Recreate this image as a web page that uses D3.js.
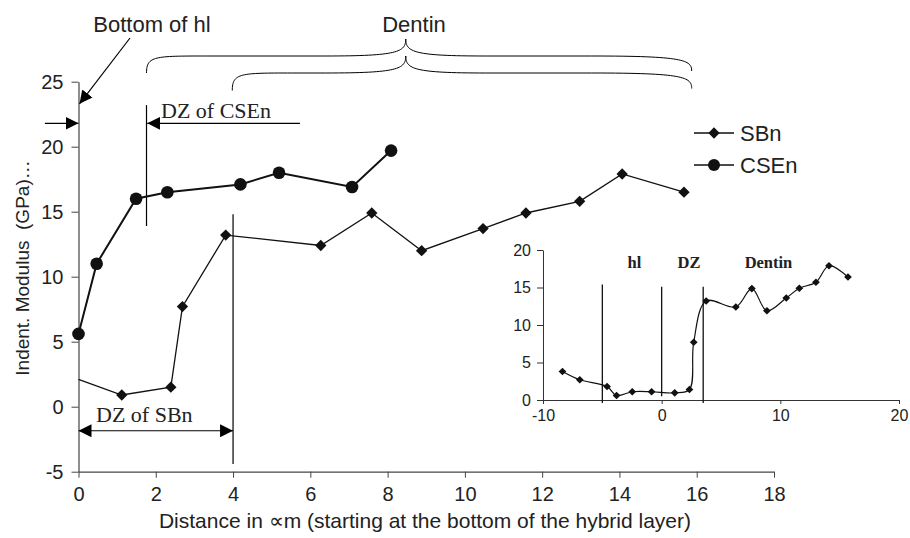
<!DOCTYPE html>
<html>
<head>
<meta charset="utf-8">
<script src="https://cdn.jsdelivr.net/npm/d3@7"></script>
<style>
  body { margin: 0; background: #fff; }
  svg { display: block; }
</style>
</head>
<body>
<div id="chart"></div>
<script>
// main chart series (distance from bottom of hybrid layer, um / modulus, GPa)
const sbnX = [0, 1.12, 2.39, 2.69, 3.81, 6.27, 7.59, 8.88, 10.47, 11.58, 12.97, 14.07, 15.67];
const sbnY = [2.1, 0.9, 1.5, 7.7, 13.2, 12.4, 14.9, 12.0, 13.7, 14.9, 15.8, 17.9, 16.5];
const csenX = [0, 0.47, 1.49, 2.3, 4.19, 5.19, 7.08, 8.09];
const csenY = [5.6, 11.0, 16.0, 16.5, 17.1, 18.0, 16.9, 19.7];

// inset: full SBn profile
const insetX = [-8.36, -6.9, -4.6, -3.8, -2.48, -0.85, 1.1, 2.34, 2.7, 3.75, 6.25, 7.6, 8.87, 10.5, 11.6, 13.0, 14.1, 15.7];
const insetY = [3.8, 2.7, 1.8, 0.6, 1.1, 1.1, 0.95, 1.4, 7.7, 13.2, 12.4, 14.85, 11.9, 13.6, 14.9, 15.7, 17.9, 16.4];

const xTicks = [0, 2, 4, 6, 8, 10, 12, 14, 16, 18];
const yTicks = [-5, 0, 5, 10, 15, 20, 25];
const insetXTicks = [-10, 0, 10, 20];
const insetYTicks = [0, 5, 10, 15, 20];

const width = 910, height = 538;
const svg = d3.select("#chart").append("svg")
  .attr("width", width).attr("height", height);

const x = d3.scaleLinear().domain([0, 18]).range([78.5, 774]);
const y = d3.scaleLinear().domain([-5, 25]).range([471.7, 81.7]);

const arial = "Arial, 'Liberation Sans', sans-serif";
const times = "'Times New Roman', 'Liberation Serif', serif";
const fmt = d => String(d);

// arrowhead
svg.append("defs").append("marker")
  .attr("id", "arr")
  .attr("viewBox", "0 0 10 10")
  .attr("refX", 10).attr("refY", 5)
  .attr("markerWidth", 13).attr("markerHeight", 13)
  .attr("markerUnits", "userSpaceOnUse")
  .attr("orient", "auto-start-reverse")
  .append("path").attr("d", "M0,0L10,5L0,10Z").attr("fill", "#000");

// axes
const xAxis = svg.append("g")
  .attr("transform", `translate(0,${y(-5)})`)
  .call(d3.axisBottom(x).tickValues(xTicks).tickFormat(fmt).tickSize(6).tickPadding(9).tickSizeOuter(0));
const yAxis = svg.append("g")
  .attr("transform", `translate(${x(0)},0)`)
  .call(d3.axisLeft(y).tickValues(yTicks).tickFormat(fmt).tickSize(7).tickPadding(8).tickSizeOuter(0));
[xAxis, yAxis].forEach(g => {
  g.select(".domain").attr("stroke", "#444").attr("stroke-width", 1.2);
  g.selectAll(".tick line").attr("stroke", "#444");
  g.selectAll("text").attr("font-family", arial).attr("font-size", 20).attr("fill", "#222");
});

svg.append("text")
  .attr("x", 425).attr("y", 528)
  .attr("text-anchor", "middle")
  .attr("font-family", arial).attr("font-size", 21).attr("fill", "#222")
  .text("Distance in \u221Dm (starting at the bottom of the hybrid layer)");

svg.append("text")
  .attr("transform", "translate(29,268) rotate(-90)")
  .attr("text-anchor", "middle")
  .attr("font-family", arial).attr("font-size", 19).attr("fill", "#222")
  .text("Indent. Modulus \u00A0(GPa)\u2026");

// annotation lines
const ann = svg.append("g").attr("stroke", "#000").attr("stroke-width", 1.2).attr("fill", "none");

// DZ of CSEn
ann.append("line").attr("x1", x(1.76)).attr("x2", x(1.76)).attr("y1", y(23.2)).attr("y2", y(13.9));
ann.append("line").attr("x1", x(5.73)).attr("x2", x(1.78)).attr("y1", y(21.8)).attr("y2", y(21.8))
  .attr("marker-end", "url(#arr)");
ann.append("line").attr("x1", x(-0.87)).attr("x2", x(0)).attr("y1", y(21.8)).attr("y2", y(21.8))
  .attr("marker-end", "url(#arr)");

// Bottom of hl arrow
ann.append("line").attr("x1", 130).attr("y1", 38).attr("x2", x(0) + 1).attr("y2", y(23.3))
  .attr("marker-end", "url(#arr)");

// DZ of SBn
ann.append("line").attr("x1", x(4)).attr("x2", x(4)).attr("y1", y(14.8)).attr("y2", y(-4.4));
ann.append("line").attr("x1", x(0)).attr("x2", x(4)).attr("y1", y(-1.85)).attr("y2", y(-1.85))
  .attr("marker-start", "url(#arr)").attr("marker-end", "url(#arr)");

// braces
function brace(x0, yEnd, yBar, x1, xTip, yTip) {
  const r = 40;
  return `M${x0},${yEnd} C${x0},${yBar} ${x0 + r * 0.2},${yBar} ${x0 + r * 1.5},${yBar}` +
    ` L${xTip - r * 2},${yBar} C${xTip - 8},${yBar} ${xTip},${yBar - 4} ${xTip},${yTip}` +
    ` C${xTip},${yBar - 4} ${xTip + 8},${yBar} ${xTip + r * 2},${yBar}` +
    ` L${x1 - r * 2.5},${yBar} C${x1 - 8},${yBar} ${x1},${yBar + 4} ${x1},${yEnd - 2}`;
}
ann.append("path").attr("d", brace(x(1.76), 73, 56, x(15.87), x(8.47), 39)).attr("stroke-width", 1);
ann.append("path").attr("d", brace(x(3.98), 90.5, 73, x(15.87), x(8.47), 56)).attr("stroke-width", 1);

// annotation texts
svg.append("text").attr("x", 152).attr("y", 32).attr("text-anchor", "middle")
  .attr("font-family", arial).attr("font-size", 22).attr("fill", "#222").text("Bottom of hl");
svg.append("text").attr("x", 414).attr("y", 32).attr("text-anchor", "middle")
  .attr("font-family", arial).attr("font-size", 22).attr("fill", "#222").text("Dentin");
svg.append("text").attr("x", 161).attr("y", 118)
  .attr("font-family", times).attr("font-size", 22).attr("fill", "#222").text("DZ of CSEn");
svg.append("text").attr("x", 96).attr("y", 422)
  .attr("font-family", times).attr("font-size", 22).attr("fill", "#222").text("DZ of SBn");

// series
const sbn = sbnX.map((d, i) => [d, sbnY[i]]);
const csen = csenX.map((d, i) => [d, csenY[i]]);
const line = d3.line().x(d => x(d[0])).y(d => y(d[1]));

svg.append("path").datum(sbn).attr("d", line)
  .attr("fill", "none").attr("stroke", "#111").attr("stroke-width", 1.3);
svg.append("path").datum(csen).attr("d", line)
  .attr("fill", "none").attr("stroke", "#111").attr("stroke-width", 2);

const diamond = d3.symbol().type(d3.symbolSquare).size(64);
svg.selectAll(".sbn").data(sbn.slice(1)).enter().append("path")
  .attr("class", "sbn")
  .attr("d", diamond)
  .attr("transform", d => `translate(${x(d[0])},${y(d[1])}) rotate(45)`)
  .attr("fill", "#111");
svg.selectAll(".csen").data(csen).enter().append("circle")
  .attr("class", "csen")
  .attr("cx", d => x(d[0])).attr("cy", d => y(d[1])).attr("r", 6.3)
  .attr("fill", "#111");

// legend
const legend = svg.append("g").attr("transform", "translate(694,133)");
[["SBn", "d"], ["CSEn", "c"]].forEach(([name, t], i) => {
  const g = legend.append("g").attr("transform", `translate(0,${i * 32})`);
  g.append("line").attr("x1", 0).attr("x2", 40).attr("stroke", "#111").attr("stroke-width", 1.3);
  if (t === "d") g.append("path").attr("d", diamond).attr("transform", "translate(20,0) rotate(45)").attr("fill", "#111");
  else g.append("circle").attr("cx", 20).attr("r", 6).attr("fill", "#111");
  g.append("text").attr("x", 46).attr("y", 8)
    .attr("font-family", arial).attr("font-size", 22).attr("fill", "#222").text(name);
});

// inset
const ix = d3.scaleLinear().domain([-10, 20]).range([543, 899]);
const iy = d3.scaleLinear().domain([0, 20]).range([400, 250]);
const inset = svg.append("g");
const ixAxis = inset.append("g").attr("transform", `translate(0,${iy(0)})`)
  .call(d3.axisBottom(ix).tickValues(insetXTicks).tickFormat(fmt).tickSize(4).tickPadding(6).tickSizeOuter(0));
const iyAxis = inset.append("g").attr("transform", `translate(${ix(-10)},0)`)
  .call(d3.axisLeft(iy).tickValues(insetYTicks).tickFormat(fmt).tickSize(6).tickPadding(6).tickSizeOuter(0));
[ixAxis, iyAxis].forEach(g => {
  g.select(".domain").attr("stroke", "#333");
  g.selectAll(".tick line").attr("stroke", "#333");
  g.selectAll("text").attr("font-family", arial).attr("font-size", 16).attr("fill", "#222");
});

const ins = insetX.map((d, i) => [d, insetY[i]]);
inset.append("path").datum(ins)
  .attr("d", d3.line().x(d => ix(d[0])).y(d => iy(d[1])).curve(d3.curveCatmullRom.alpha(0.5)))
  .attr("fill", "none").attr("stroke", "#111").attr("stroke-width", 1.2);
inset.selectAll(".ins").data(ins).enter().append("path")
  .attr("d", d3.symbol().type(d3.symbolSquare).size(30))
  .attr("transform", d => `translate(${ix(d[0])},${iy(d[1])}) rotate(45)`)
  .attr("fill", "#111");

const ilines = [[-5, 15.4, -0.4], [0, 15.1, 0.5], [3.5, 15.1, -0.4]];
inset.selectAll(".vl").data(ilines).enter().append("line")
  .attr("x1", d => ix(d[0])).attr("x2", d => ix(d[0]))
  .attr("y1", d => iy(d[1])).attr("y2", d => iy(d[2]))
  .attr("stroke", "#111").attr("stroke-width", 1.3);

[["hl", -2.3], ["DZ", 2.3], ["Dentin", 9]].forEach(([t, v]) => {
  inset.append("text").attr("x", ix(v)).attr("y", 268).attr("text-anchor", "middle")
    .attr("font-family", times).attr("font-weight", "bold").attr("font-size", 16.5)
    .attr("fill", "#222").text(t);
});
</script>
</body>
</html>
